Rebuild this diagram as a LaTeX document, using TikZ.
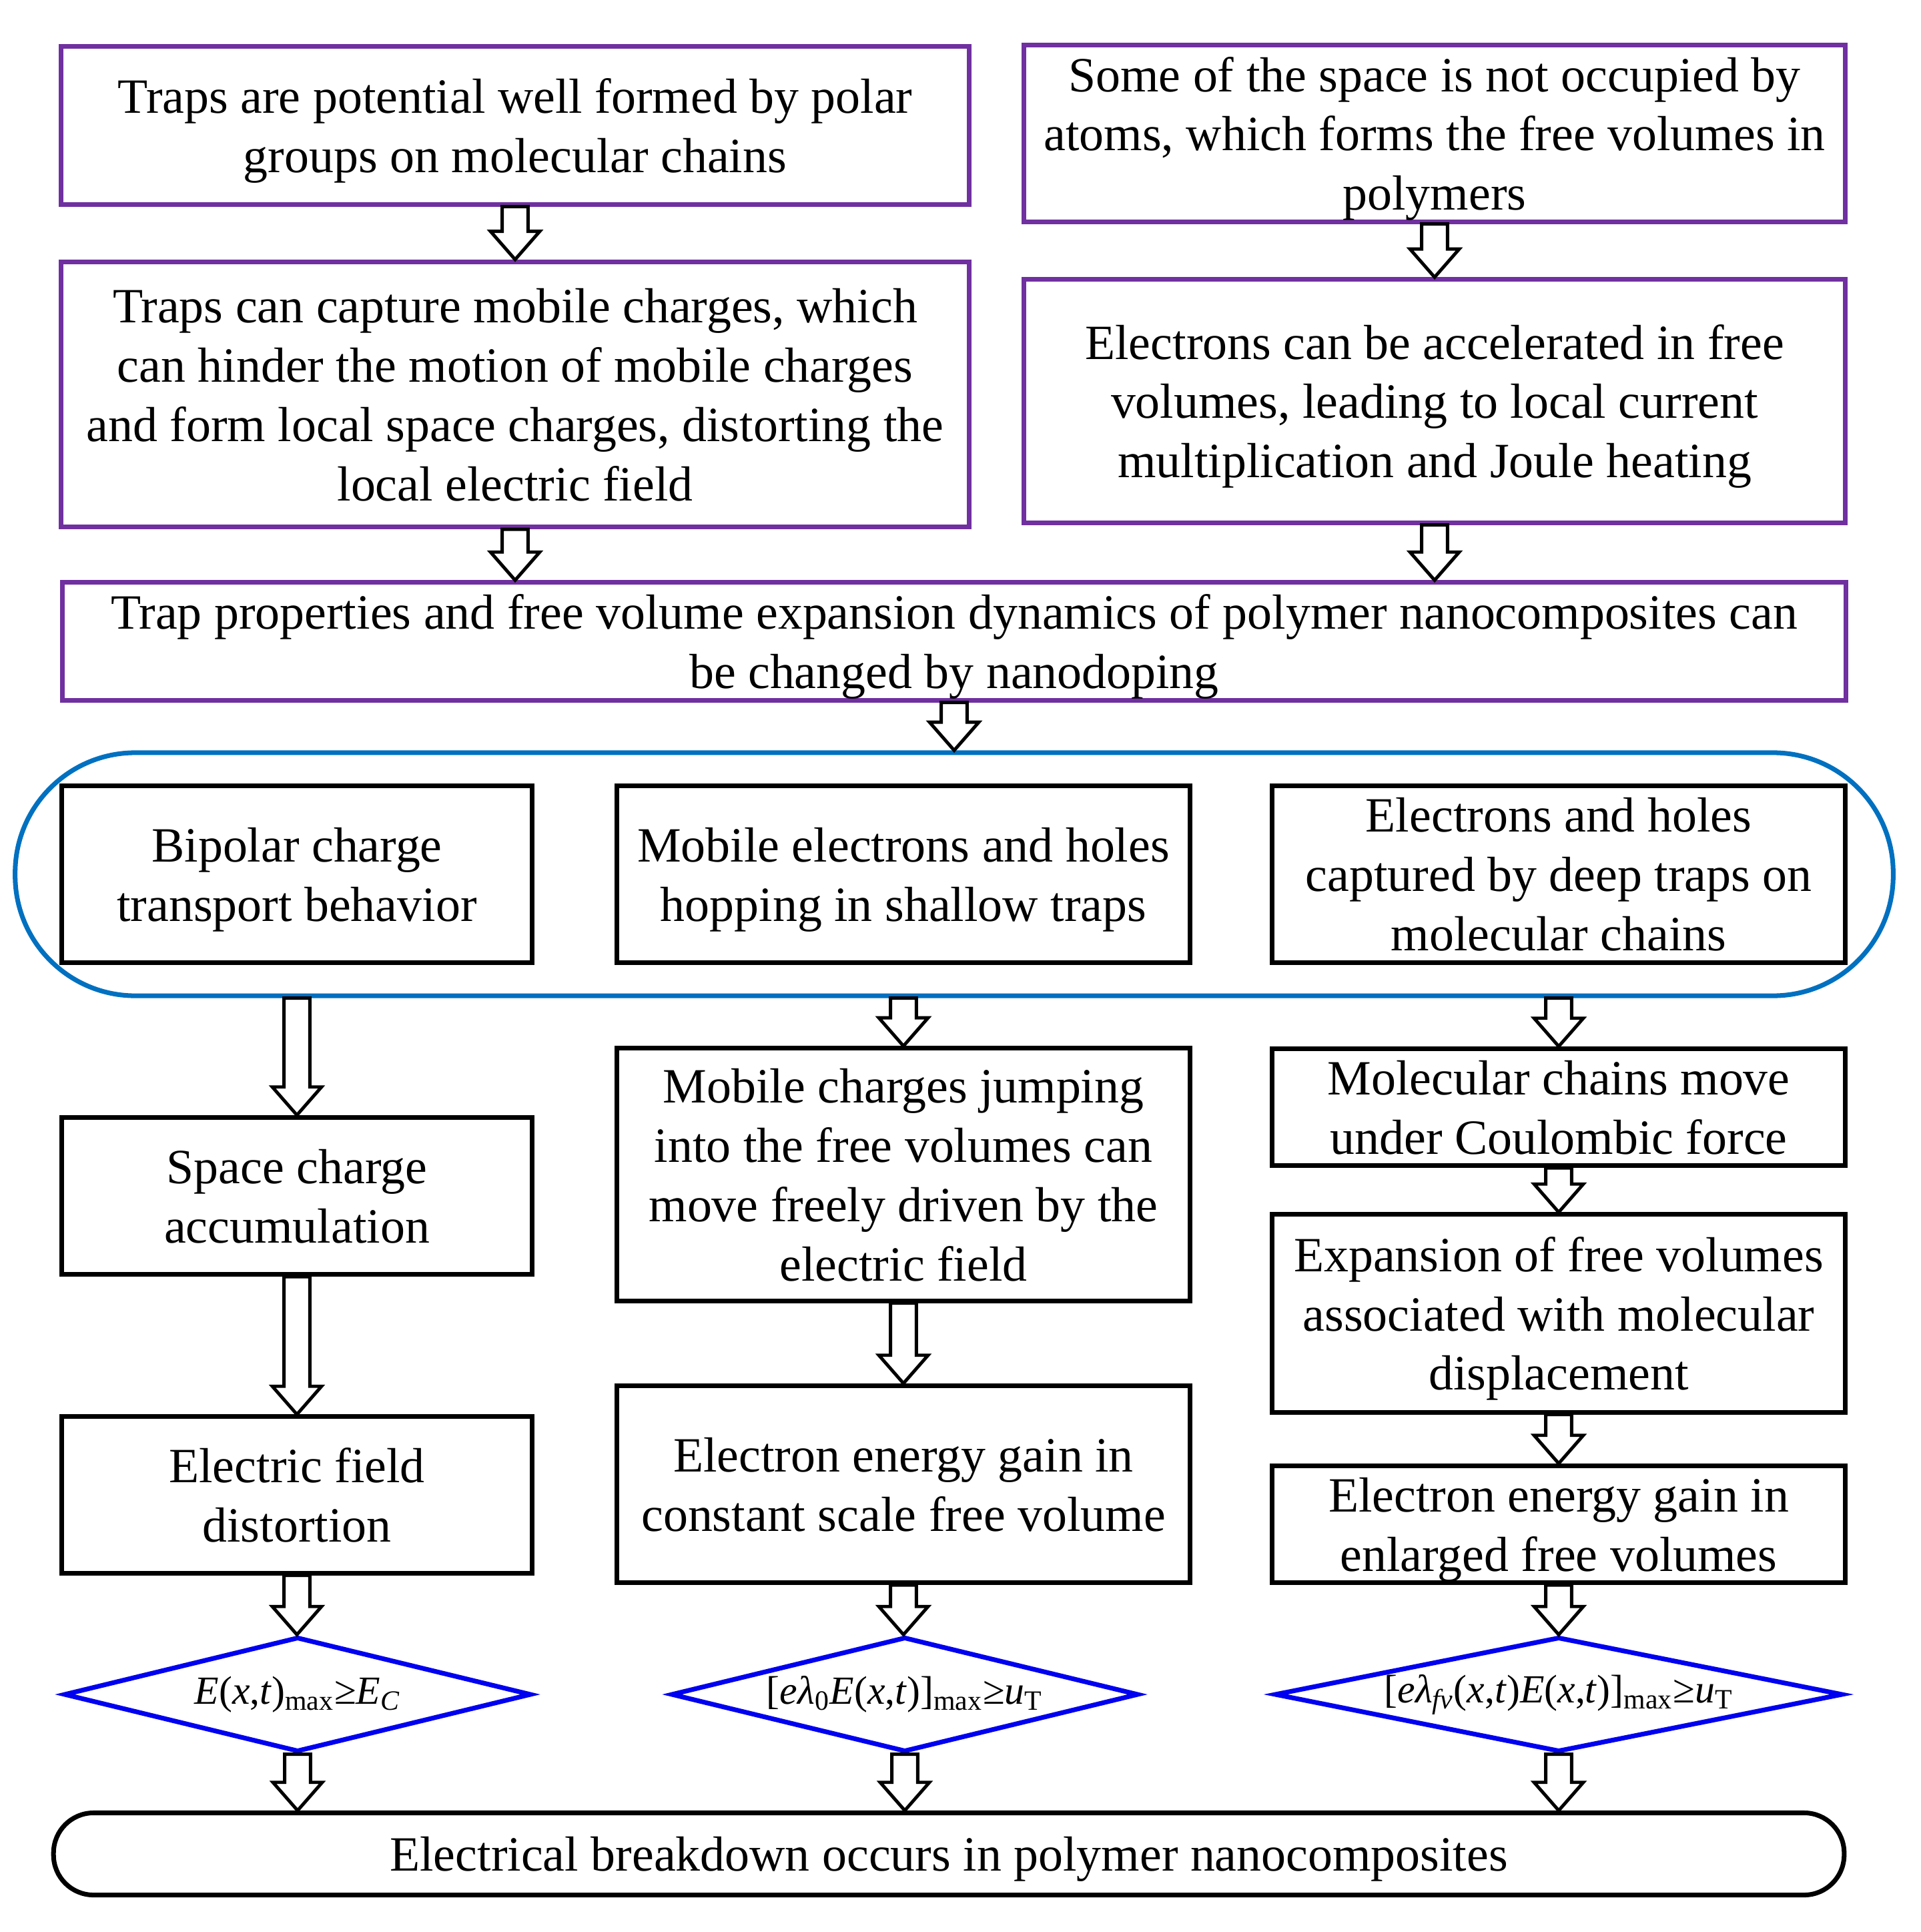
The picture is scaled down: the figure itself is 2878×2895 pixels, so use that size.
\documentclass[tikz,border=0pt]{standalone}
\usepackage{fontspec}
\setmainfont{Liberation Serif}
\usetikzlibrary{shapes.geometric,calc}
\definecolor{pur}{RGB}{112,48,160}
\definecolor{capblue}{RGB}{0,112,192}
\definecolor{diablue}{RGB}{0,0,240}
\newcommand\mainsz{\fontsize{21}{25.3}\selectfont}
\newcommand\diasz{\fontsize{17}{20}\selectfont}
\newcommand\harrow[2]{\draw[blockarr] let \p1=(#1), \p2=(#2) in
  (\x1-5.5pt,\y1) -- (\x1-5.5pt,\y2+12pt) -- (\x1-10.5pt,\y2+12pt) -- (\x1,\y2)
  -- (\x1+10.5pt,\y2+12pt) -- (\x1+5.5pt,\y2+12pt) -- (\x1+5.5pt,\y1) -- cycle;}
\tikzset{
  pbox/.style={draw=pur, line width=2pt, align=center, inner sep=0pt, font=\mainsz, text depth=0pt},
  kbox/.style={draw=black, line width=2pt, align=center, inner sep=0pt, font=\mainsz, text depth=0pt},
  capsule/.style={draw=capblue, line width=2pt, inner sep=0pt, rounded corners=1.8cm},
  dia/.style={diamond, draw=diablue, line width=2pt, inner sep=0pt},
  endbox/.style={draw=black, line width=2pt, align=center, inner sep=0pt, font=\mainsz, text depth=0pt, rounded corners=0.6cm},
  blockarr/.style={draw=black, fill=white, line width=1.4pt, line join=miter},
}
\begin{document}
\begin{tikzpicture}[x=0.01cm,y=-0.01cm]
\useasboundingbox (0,0) rectangle (2878,2895);
% top purple boxes
\node[pbox, minimum width=13.61cm, minimum height=2.36cm] (B1) at (772,188)
  {Traps are potential well formed by polar\\groups on molecular chains};
\node[pbox, minimum width=12.31cm, minimum height=2.64cm] (B2) at (2150,200)
  {Some of the space is not occupied by\\atoms, which forms the free volumes in\\polymers};
\node[pbox, minimum width=13.61cm, minimum height=3.97cm] (B3) at (772,591)
  {Traps can capture mobile charges, which\\can hinder the motion of mobile charges\\and form local space charges, distorting the\\local electric field};
\node[pbox, minimum width=12.31cm, minimum height=3.64cm] (B4) at (2150,601)
  {Electrons can be accelerated in free\\volumes, leading to local current\\multiplication and Joule heating};
\node[pbox, minimum width=26.71cm, minimum height=1.76cm] (B5) at (1430,961)
  {Trap properties and free volume expansion dynamics of polymer nanocomposites can\\be changed by nanodoping};
% capsule
\node[capsule, minimum width=28.13cm, minimum height=3.64cm] (cap) at (1430,1310) {};
\node[kbox, minimum width=7.05cm, minimum height=2.64cm] (C1) at (445,1310)
  {Bipolar charge\\transport behavior};
\node[kbox, minimum width=8.58cm, minimum height=2.64cm] (C2) at (1354,1310)
  {Mobile electrons and holes\\hopping in shallow traps};
\node[kbox, minimum width=8.58cm, minimum height=2.64cm] (C3) at (2336,1310)
  {Electrons and holes\\captured by deep traps on\\molecular chains};
% column 1
\node[kbox, minimum width=7.05cm, minimum height=2.35cm] (D1) at (445,1792)
  {Space charge\\accumulation};
\node[kbox, minimum width=7.05cm, minimum height=2.34cm] (D2) at (445,2240)
  {Electric field\\distortion};
% column 2
\node[kbox, minimum width=8.58cm, minimum height=3.78cm] (E1) at (1354,1760)
  {Mobile charges jumping\\into the free volumes can\\move freely driven by the\\electric field};
\node[kbox, minimum width=8.58cm, minimum height=2.95cm] (E2) at (1354,2224)
  {Electron energy gain in\\constant scale free volume};
% column 3
\node[kbox, minimum width=8.58cm, minimum height=1.75cm] (F1) at (2336,1659)
  {Molecular chains move\\under Coulombic force};
\node[kbox, minimum width=8.58cm, minimum height=2.96cm] (F2) at (2336,1968)
  {Expansion of free volumes\\associated with molecular\\displacement};
\node[kbox, minimum width=8.58cm, minimum height=1.75cm] (F3) at (2336,2284)
  {Electron energy gain in\\enlarged free volumes};
% diamonds
\node[dia, minimum width=7.00cm, minimum height=1.72cm,
  label={[font=\diasz]center:\textit{E}(\textit{x},\textit{t})\textsubscript{max}≥\textit{E}\textsubscript{\textit{C}}}] (G1) at (446,2539) {};
\node[dia, minimum width=7.00cm, minimum height=1.72cm,
  label={[font=\diasz]center:[\textit{eλ}\textsubscript{0}\textit{E}(\textit{x},\textit{t})]\textsubscript{max}≥\textit{u}\textsubscript{T}}] (G2) at (1356,2539) {};
\node[dia, minimum width=8.51cm, minimum height=1.72cm,
  label={[font=\diasz]center:[\textit{eλ}\textsubscript{\textit{fv}}(\textit{x},\textit{t})\textit{E}(\textit{x},\textit{t})]\textsubscript{max}≥\textit{u}\textsubscript{T}}] (G3) at (2336,2539) {};
% final
\node[endbox, minimum width=26.82cm, minimum height=1.23cm] (H) at (1422,2778)
  {Electrical breakdown occurs in polymer nanocomposites};
% arrows
\harrow{B1.south}{B3.north}
\harrow{B2.south}{B4.north}
\harrow{B3.south}{B5.north -| B3}
\harrow{B4.south}{B5.north -| B4}
\harrow{B5.south}{cap.north -| B5}
\harrow{cap.south -| D1}{D1.north}
\harrow{cap.south -| E1}{E1.north}
\harrow{cap.south -| F1}{F1.north}
\harrow{D1.south}{D2.north}
\harrow{D2.south}{G1.north}
\harrow{E1.south}{E2.north}
\harrow{E2.south}{G2.north}
\harrow{F1.south}{F2.north}
\harrow{F2.south}{F3.north}
\harrow{F3.south}{G3.north}
\harrow{G1.south}{H.north -| G1}
\harrow{G2.south}{H.north -| G2}
\harrow{G3.south}{H.north -| G3}
\end{tikzpicture}
\end{document}
